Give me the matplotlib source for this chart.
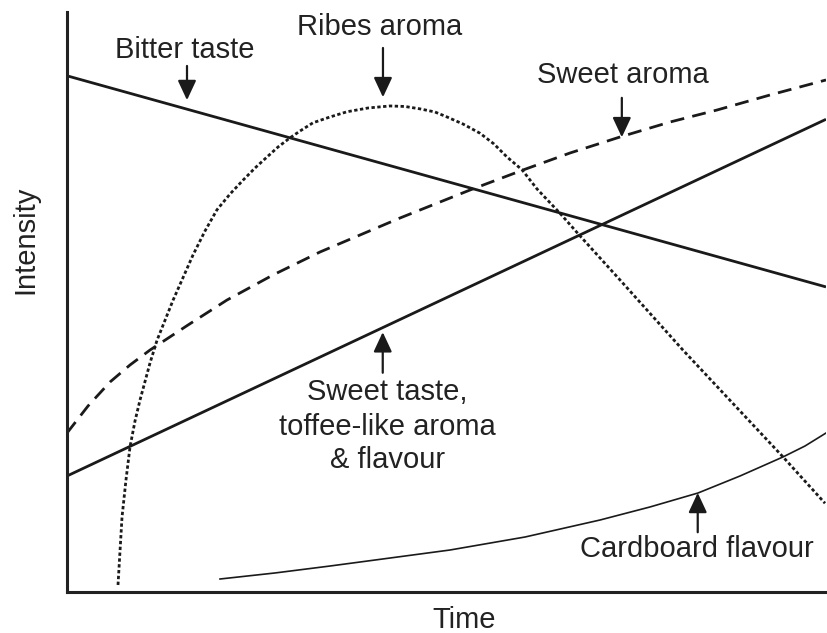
import matplotlib
matplotlib.use("Agg")
import matplotlib.pyplot as plt

plt.rcParams['font.family'] = ['Liberation Sans', 'DejaVu Sans']

# Time / intensity on a 0-100 arbitrary scale
bitter_x = [0, 100]
bitter_y = [89.0, 52.6]

sweet_taste_x = [0, 100]
sweet_taste_y = [20.0, 81.5]

sweet_aroma_x = [0, 2.77, 5.67, 8.30, 10.94, 15.94, 21.08, 27.14, 33.33, 43.87,
                 53.10, 60.08, 66.27, 72.86, 79.45, 85.64, 92.62, 100]
sweet_aroma_y = [27.41, 32.07, 36.21, 39.14, 41.72, 46.03, 50.34, 54.66, 58.62, 64.48,
                 69.31, 72.76, 75.69, 78.45, 81.03, 83.10, 85.69, 88.28]

ribes_x = [6.72, 7.25, 7.77, 8.30, 8.96, 9.62, 10.94, 11.86, 13.97, 16.6, 18.18,
           19.76, 21.48, 23.19, 24.77, 26.35, 27.80, 29.38, 30.70, 32.41, 34.65,
           36.89, 39.66, 42.56, 44.53, 46.51, 48.48, 50.07, 52.17, 54.41, 56.26,
           57.97, 59.95, 61.92, 64.95, 67.59, 72.86, 81.16, 94.33, 99.87]
ribes_y = [1.21, 12.93, 19.31, 25.0, 29.48, 33.1, 39.5, 43.4, 50.3, 58.1, 62.24,
           65.9, 68.62, 71.0, 73.10, 75.0, 76.72, 78.3, 79.48, 80.9, 81.90,
           82.8, 83.45, 83.8, 83.71, 83.3, 82.76, 81.9, 80.69, 79.1, 77.24,
           75.0, 72.8, 69.5, 65.3, 61.4, 53.8, 41.7, 23.3, 15.3]

cardboard_x = [20.16, 27.40, 34.65, 42.56, 50.46, 60.34, 70.22, 76.81, 83.14,
               88.67, 94.33, 97.23, 100]
cardboard_y = [2.24, 3.28, 4.48, 5.86, 7.24, 9.48, 12.41, 14.66, 17.07,
               20.0, 23.28, 25.17, 27.41]

W, H = 827, 633
fig = plt.figure(figsize=(W / 100, H / 100), dpi=100)
ax = fig.add_axes([67 / W, (H - 592) / H, 759 / W, 580 / H])
ax.set_xlim(0, 100)
ax.set_ylim(0, 100)

ink = '#1a1a1a'
ax.plot(bitter_x, bitter_y, color=ink, lw=2.0, solid_capstyle='butt')
ax.plot(sweet_taste_x, sweet_taste_y, color=ink, lw=2.0, solid_capstyle='butt')
ax.plot(sweet_aroma_x, sweet_aroma_y, color=ink, lw=2.0, linestyle=(0, (5, 3)))
ax.plot(ribes_x, ribes_y, color=ink, lw=2.0, linestyle=(0, (1.2, 0.9)))
ax.plot(cardboard_x, cardboard_y, color=ink, lw=1.2)

for s in ['top', 'right']:
    ax.spines[s].set_visible(False)
for s in ['left', 'bottom']:
    ax.spines[s].set_linewidth(2.2)
    ax.spines[s].set_color('#222222')
ax.set_xticks([])
ax.set_yticks([])

fs = 21
tc = '#222222'
arrow_kw = dict(arrowstyle='-|>,head_length=0.6,head_width=0.28', color=ink,
                lw=1.6, mutation_scale=20, shrinkA=0, shrinkB=0)

def arrow(x, y0, y1):
    ax.annotate('', xy=(x, y1), xytext=(x, y0), arrowprops=arrow_kw,
                annotation_clip=False)

# Bitter taste
ax.text(15.55, 92.1, 'Bitter taste', fontsize=fs, color=tc, ha='center', va='baseline', clip_on=False)
arrow(15.81, 90.7, 84.8)
# Ribes aroma
ax.text(41.2, 96.0, 'Ribes aroma', fontsize=fs, color=tc, ha='center', va='baseline', clip_on=False)
arrow(41.63, 93.8, 85.3)
# Sweet aroma
ax.text(73.25, 87.8, 'Sweet aroma', fontsize=fs, color=tc, ha='center', va='baseline')
arrow(73.1, 85.2, 78.4)
# Sweet taste
for txt, yb in [('Sweet taste,', (592 - 400) / 5.8),
                ('toffee-like aroma', (592 - 435) / 5.8),
                ('& flavour', (592 - 468) / 5.8)]:
    ax.text(42.2, yb, txt, fontsize=fs, color=tc, ha='center', va='baseline')
arrow(41.6, 37.8, 44.8)
# Cardboard flavour
ax.text(83.0, 6.03, 'Cardboard flavour', fontsize=fs, color=tc, ha='center', va='baseline')
arrow(83.1, 10.3, 17.1)

fig.text(25 / W, 1 - 240 / H, 'Intensity', rotation=90, fontsize=fs, color=tc,
         ha='center', va='center')
fig.text(464 / W, 1 - 628 / H, 'Time', fontsize=fs, color=tc, ha='center', va='baseline')

fig.savefig('out.png', dpi=100)
